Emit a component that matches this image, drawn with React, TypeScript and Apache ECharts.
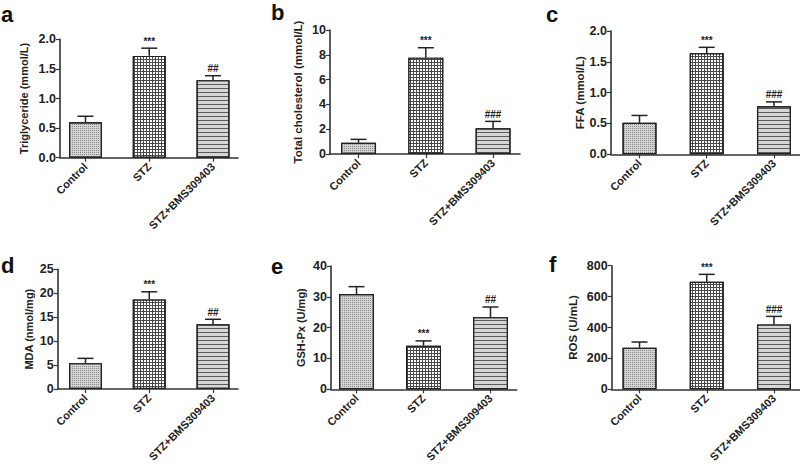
import React, { useEffect, useRef } from "react";
import * as echarts from "echarts";

const categories = ["Control", "STZ", "STZ+BMS309403"];

const triglycerideMean = [0.6, 1.72, 1.31];
const triglycerideErr = [0.1, 0.13, 0.075];
const triglycerideMarks = ["", "***", "##"];

const cholesterolMean = [0.91, 7.77, 2.07];
const cholesterolErr = [0.27, 0.8, 0.56];
const cholesterolMarks = ["", "***", "###"];

const ffaMean = [0.51, 1.64, 0.78];
const ffaErr = [0.12, 0.095, 0.07];
const ffaMarks = ["", "***", "###"];

const mdaMean = [5.4, 18.7, 13.5];
const mdaErr = [1.0, 1.6, 1.06];
const mdaMarks = ["", "***", "##"];

const gshMean = [30.9, 14.1, 23.4];
const gshErr = [2.4, 1.6, 3.3];
const gshMarks = ["", "***", "##"];

const rosMean = [269, 696, 420];
const rosErr = [37, 48, 52];
const rosMarks = ["", "***", "###"];

const FONT = "'Liberation Sans', Arial, Helvetica, sans-serif";

const panels = [
  { letter: "a", name: "Triglyceride (mmol/L)", mean: triglycerideMean, err: triglycerideErr, marks: triglycerideMarks, yMax: 2, yInt: 0.5, dec: 1, grid: { left: 60, top: 39.3, width: 178, height: 118.4 }, xMin: -0.4, xMax: 2.392, barW: 33, nameGap: 31, nameSize: 11, letterPos: [1, 25] },
  { letter: "b", name: "Total cholesterol (mmol/L)", mean: cholesterolMean, err: cholesterolErr, marks: cholesterolMarks, yMax: 10, yInt: 2, dec: 0, grid: { left: 330, top: 30, width: 190, height: 124 }, xMin: -0.424, xMax: 2.4, barW: 35, nameGap: 26, nameSize: 11.5, letterPos: [271, 23] },
  { letter: "c", name: "FFA (mmol/L)", mean: ffaMean, err: ffaErr, marks: ffaMarks, yMax: 2, yInt: 0.5, dec: 1, grid: { left: 611, top: 31, width: 189, height: 123.3 }, xMin: -0.424, xMax: 2.387, barW: 34, nameGap: 25, nameSize: 11.5, letterPos: [546, 25] },
  { letter: "d", name: "MDA (nmol/mg)", mean: mdaMean, err: mdaErr, marks: mdaMarks, yMax: 25, yInt: 5, dec: 0, grid: { left: 57.7, top: 269.3, width: 180.3, height: 119.7 }, xMin: -0.436, xMax: 2.392, barW: 33, nameGap: 23, nameSize: 11, letterPos: [1, 276] },
  { letter: "e", name: "GSH-Px (U/mg)", mean: gshMean, err: gshErr, marks: gshMarks, yMax: 40, yInt: 10, dec: 0, grid: { left: 331, top: 266, width: 185.7, height: 123.3 }, xMin: -0.381, xMax: 2.391, barW: 35, nameGap: 25, nameSize: 11, letterPos: [271, 277] },
  { letter: "f", name: "ROS (U/mL)", mean: rosMean, err: rosErr, marks: rosMarks, yMax: 800, yInt: 200, dec: 0, grid: { left: 611.7, top: 265.7, width: 188.3, height: 123.6 }, xMin: -0.414, xMax: 2.387, barW: 34, nameGap: 33, nameSize: 11.5, letterPos: [549, 275] },
];

const barStyles = [
  {
    color: "#d4d4d4",
    borderColor: "#222",
    borderWidth: 1.2,
    decal: { symbol: "rect", symbolSize: 1, color: "#8a8a8a", dashArrayX: [1, 1], dashArrayY: [1, 1], rotation: 0 },
  },
  {
    color: "#4a4a4a",
    borderColor: "#222",
    borderWidth: 1.2,
    decal: { symbol: "rect", symbolSize: 1, color: "#ffffff", dashArrayX: [2, 1], dashArrayY: [2, 1], rotation: 0 },
  },
  {
    color: "#d6d6d6",
    borderColor: "#222",
    borderWidth: 1.2,
    decal: { symbol: "rect", symbolSize: 1, color: "#5a5a5a", dashArrayX: [[4, 0]], dashArrayY: [1, 3], rotation: 0 },
  },
];

export default function App() {
  const ref = useRef<HTMLDivElement>(null);
  useEffect(() => {
    if (!ref.current) return;
    const chart = echarts.init(ref.current, null, { renderer: "svg" });
    const grids: any[] = [];
    const xAxes: any[] = [];
    const yAxes: any[] = [];
    const series: any[] = [];
    const graphics: any[] = [];
    panels.forEach((p, i) => {
      grids.push({ ...p.grid, containLabel: false });
      xAxes.push({
        type: "value",
        gridIndex: i,
        min: p.xMin,
        max: p.xMax,
        axisLine: { show: true, onZero: false, lineStyle: { color: "#333", width: 1.6 } },
        axisTick: { show: true, customValues: [0, 1, 2], length: 4, lineStyle: { color: "#333", width: 1.2 } },
        axisLabel: {
          customValues: [0, 1, 2],
          formatter: (v: number) => categories[Math.round(v)] ?? "",
          rotate: 45,
          margin: 7,
          fontFamily: FONT,
          fontWeight: "bold",
          fontSize: 11,
          color: "#222",
        },
        splitLine: { show: false },
      });
      yAxes.push({
        type: "value",
        gridIndex: i,
        min: 0,
        max: p.yMax,
        interval: p.yInt,
        name: p.name,
        nameLocation: "middle",
        nameGap: p.nameGap,
        nameRotate: 90,
        nameTextStyle: { fontFamily: FONT, fontWeight: "bold", fontSize: p.nameSize, color: "#222" },
        axisLine: { show: true, onZero: false, lineStyle: { color: "#333", width: 1.6 } },
        axisTick: { show: true, length: 4, lineStyle: { color: "#333", width: 1.2 } },
        axisLabel: {
          formatter: (v: number) => v.toFixed(p.dec),
          margin: 4,
          fontFamily: FONT,
          fontWeight: "bold",
          fontSize: 12.5,
          color: "#222",
        },
        splitLine: { show: false },
      });
      series.push({
        type: "bar",
        xAxisIndex: i,
        yAxisIndex: i,
        barWidth: p.barW,
        data: p.mean.map((v, k) => ({ value: [k, v], itemStyle: barStyles[k] })),
        z: 2,
      });
      const marks = p.marks;
      series.push({
        type: "custom",
        xAxisIndex: i,
        yAxisIndex: i,
        z: 3,
        data: p.mean.map((v, k) => [k, v, p.err[k]]),
        renderItem: (params: any, api: any) => {
          const x = api.value(0);
          const y = api.value(1);
          const e = api.value(2);
          const b = api.coord([x, y]);
          const t = api.coord([x, y + e]);
          const half = 8;
          const st = { stroke: "#222", lineWidth: 1.5 };
          return {
            type: "group",
            children: [
              { type: "line", shape: { x1: b[0], y1: b[1], x2: t[0], y2: t[1] }, style: st },
              { type: "line", shape: { x1: t[0] - half, y1: t[1], x2: t[0] + half, y2: t[1] }, style: st },
              {
                type: "text",
                x: t[0],
                y: t[1] - 2,
                style: {
                  text: marks[params.dataIndex],
                  textAlign: "center",
                  textVerticalAlign: "bottom",
                  font: `bold 10px ${FONT}`,
                  fill: "#222",
                },
              },
            ],
          };
        },
      });
      graphics.push({
        type: "text",
        left: p.letterPos[0],
        top: p.letterPos[1] - 22,
        style: { text: p.letter, font: `bold 22px ${FONT}`, fill: "#111" },
      });
    });
    chart.setOption({
      animation: false,
      backgroundColor: "#ffffff",
      grid: grids,
      xAxis: xAxes,
      yAxis: yAxes,
      series,
      graphic: graphics,
    });
    return () => chart.dispose();
  }, []);
  return (
    <div
      ref={ref}
      style={{ position: "fixed", left: 0, top: 0, width: 800, height: 471 }}
    />
  );
}
